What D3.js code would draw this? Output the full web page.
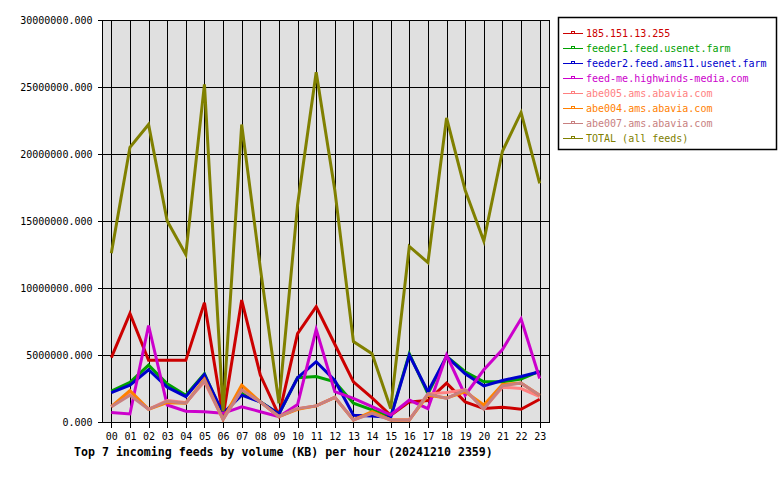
<!DOCTYPE html>
<html><head><meta charset="utf-8">
<script src="https://cdn.jsdelivr.net/npm/d3@7"></script>
<style>body{margin:0;background:#fff}svg{display:block}</style>
</head><body>
<svg id="chart" width="780" height="480"></svg>
<script>
const hours = ["00","01","02","03","04","05","06","07","08","09","10","11","12","13","14","15","16","17","18","19","20","21","22","23"];
const yTicks = [0, 5000000, 10000000, 15000000, 20000000, 25000000, 30000000];
const seriesNames = ["185.151.13.255","feeder1.feed.usenet.farm","feeder2.feed.ams11.usenet.farm","feed-me.highwinds-media.com","abe005.ams.abavia.com","abe004.ams.abavia.com","abe007.ams.abavia.com","TOTAL (all feeds)"];
const seriesColors = ["#cc0000","#00a000","#0000cc","#cc00cc","#ff8080","#ff8000","#c88080","#808000"];

const red185   = [4800000,8100000,4600000,4600000,4600000,8900000,400000,9100000,3500000,500000,6600000,8600000,5800000,3000000,1800000,500000,1500000,1600000,2900000,1500000,1000000,1100000,950000,1700000];
const feeder1  = [2300000,2950000,4240000,2850000,2000000,3600000,500000,2200000,1500000,600000,3300000,3400000,3000000,1400000,900000,400000,5100000,2100000,4900000,3750000,3000000,3000000,3200000,3800000];
const feeder2  = [2200000,2750000,3900000,2600000,1900000,3550000,650000,2000000,1500000,600000,3300000,4500000,3100000,500000,450000,350000,5000000,2260000,4900000,3600000,2700000,3100000,3400000,3750000];
const feedme   = [700000,600000,7200000,1270000,800000,770000,650000,1140000,770000,400000,1300000,6900000,2260000,1760000,1140000,520000,1640000,1000000,5000000,2000000,3900000,5400000,7700000,3250000];
const abe005   = [1140000,2150000,950000,1600000,1450000,3000000,200000,2400000,1500000,400000,1000000,1200000,1840000,150000,700000,150000,150000,2100000,2200000,2400000,1000000,2600000,2500000,1900000];
const abe004   = [1140000,2350000,950000,1440000,1400000,3200000,200000,2750000,1500000,400000,950000,1200000,1840000,150000,770000,150000,150000,2000000,1800000,2260000,1270000,2800000,2900000,2000000];
const abe007   = [1140000,2000000,950000,1550000,1400000,3100000,200000,2400000,1500000,400000,1000000,1200000,1840000,150000,650000,150000,150000,2100000,1760000,2400000,950000,2700000,2900000,2000000];
const total    = [12600000,20500000,22200000,15000000,12500000,25200000,800000,22200000,11500000,1400000,16200000,26100000,17300000,6000000,5100000,1000000,13100000,11900000,22700000,17300000,13500000,20200000,23100000,17800000];
const seriesValues = [red185, feeder1, feeder2, feedme, abe005, abe004, abe007, total];

const svg = d3.select("#chart");
const L = 102, R = 549, T = 20, B = 422;
const font = "'DejaVu Sans Mono', 'Liberation Mono', monospace";

const x = d3.scalePoint().domain(hours).range([L, R]).padding(0.5);
const y = d3.scaleLinear().domain([0, 30000000]).range([B, T]);

svg.append("rect").attr("x", L).attr("y", T).attr("width", R - L).attr("height", B - T)
  .attr("fill", "#e0e0e0");

// grid
const g = svg.append("g").attr("shape-rendering", "crispEdges");
g.selectAll("line.v").data(hours).join("line")
  .attr("x1", d => Math.round(x(d)) + 0.5).attr("x2", d => Math.round(x(d)) + 0.5)
  .attr("y1", T).attr("y2", B).attr("stroke", "#000");
g.selectAll("line.h").data(yTicks).join("line")
  .attr("x1", L).attr("x2", R)
  .attr("y1", d => Math.round(y(d)) + 0.5).attr("y2", d => Math.round(y(d)) + 0.5).attr("stroke", "#000");

// axes
const yAxis = svg.append("g").attr("transform", `translate(${L + 0.5},0)`)
  .call(d3.axisLeft(y).tickValues(yTicks).tickFormat(d3.format(".3f")).tickSize(5).tickPadding(5));
const xAxis = svg.append("g").attr("transform", `translate(0,${B + 0.5})`)
  .call(d3.axisBottom(x).tickSize(5).tickPadding(5));
[yAxis, xAxis].forEach(a => {
  a.attr("shape-rendering", "crispEdges");
  a.select(".domain").remove();
  a.selectAll(".tick line").attr("stroke", "#000");
  a.selectAll("text").attr("font-family", font).attr("font-size", "10px").attr("fill", "#000");
});
yAxis.selectAll(".tick text").attr("dy", "0.35em");

// lines
const line = d3.line().x((d, i) => x(hours[i])).y(d => y(d));
svg.append("g").selectAll("path").data(seriesValues).join("path")
  .attr("d", d => line(d)).attr("fill", "none")
  .attr("stroke", (d, i) => seriesColors[i]).attr("stroke-width", 3)
  .attr("stroke-linejoin", "miter");

// frame
svg.append("rect").attr("x", L + 0.5).attr("y", T + 0.5).attr("width", R - L).attr("height", B - T)
  .attr("fill", "none").attr("stroke", "#000").attr("shape-rendering", "crispEdges");

// legend
const lg = svg.append("g");
lg.append("rect").attr("x", 558.5).attr("y", 17.5).attr("width", 218).attr("height", 132)
  .attr("fill", "#fff").attr("stroke", "#000").attr("stroke-width", 1.5);
const items = lg.selectAll("g.item").data(seriesNames).join("g")
  .attr("transform", (d, i) => `translate(0,${33 + i * 15})`);
items.append("line").attr("x1", 563).attr("x2", 583).attr("y1", 0.5).attr("y2", 0.5)
  .attr("stroke", (d, i) => seriesColors[i]).attr("shape-rendering", "crispEdges");
items.append("rect").attr("x", 571.5).attr("y", -1.5).attr("width", 3).attr("height", 2)
  .attr("fill", "#fff").attr("stroke", (d, i) => seriesColors[i]).attr("shape-rendering", "crispEdges");
items.append("text").attr("x", 586).attr("y", 4).text(d => d)
  .attr("font-family", font).attr("font-size", "10px").attr("fill", (d, i) => seriesColors[i]);

// title
svg.append("text").attr("x", 74).attr("y", 456)
  .text("Top 7 incoming feeds by volume (KB) per hour (20241210 2359)")
  .attr("font-family", font).attr("font-size", "11.6px").attr("font-weight", "bold").attr("fill", "#000");
</script>
</body></html>
